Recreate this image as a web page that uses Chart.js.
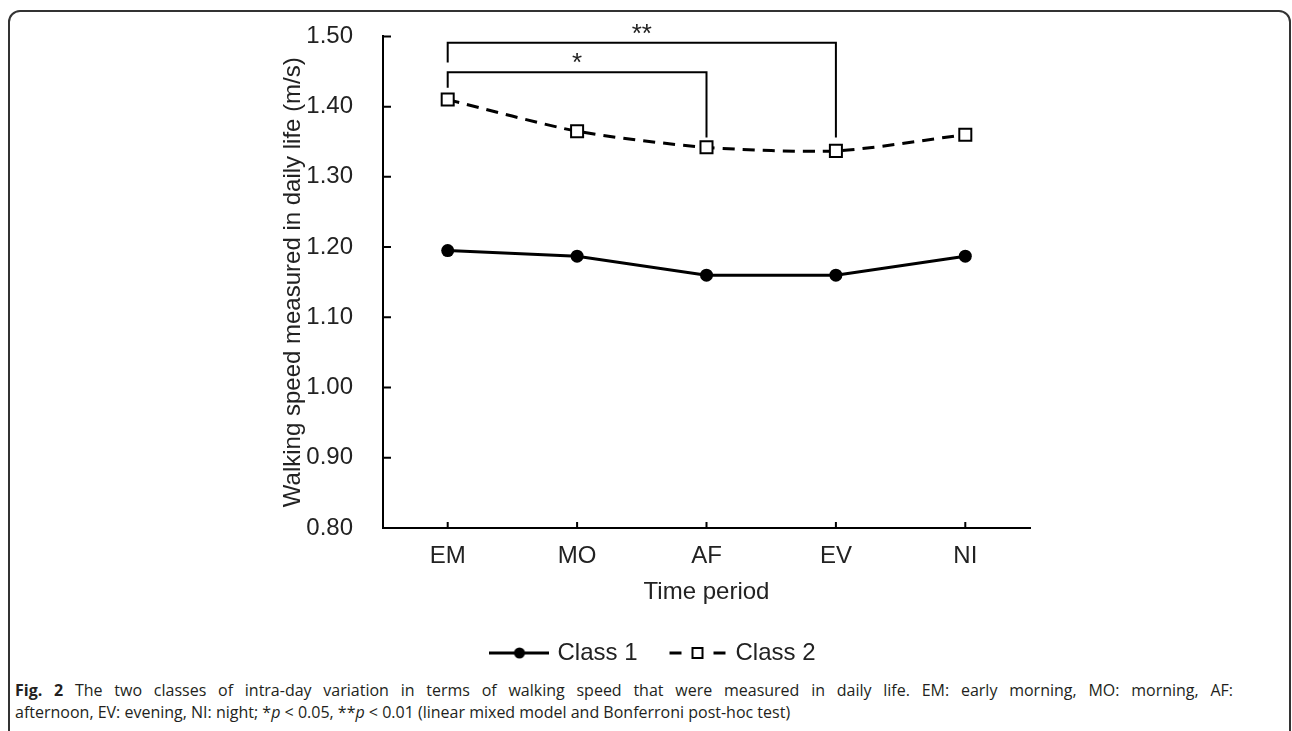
<!DOCTYPE html>
<html lang="en">
  <head>
    <meta charset="UTF-8" />
    <title>Walking speed by time period</title>
    <script src="https://cdn.jsdelivr.net/npm/chart.js@4.4.0/dist/chart.umd.min.js"></script>
    <style>
      html, body { margin: 0; padding: 0; background: #fff; overflow: hidden; }
      #frame {
        position: absolute; left: 8px; top: 10px; width: 1283px; height: 800px;
        box-sizing: border-box; border: 2px solid #333; border-radius: 12px;
      }
      #myChart { position: absolute; left: 0; top: 0; }
      #caption {
        position: absolute; left: 15px; top: 679px; width: 1218px;
        font-family: "Open Sans", "Noto Sans", sans-serif; font-size: 16px;
        line-height: 22px; color: #231f20;
      }
      #caption .l1 { text-align: justify; text-align-last: justify; white-space: nowrap; }
    </style>
  </head>
  <body>
    <div id="frame"></div>
    <canvas id="myChart" width="1292" height="675"></canvas>
    <div id="caption">
      <div class="l1"><b>Fig. 2</b> The two classes of intra-day variation in terms of walking speed that were measured in daily life. EM: early morning, MO: morning, AF:</div>
      <div>afternoon, EV: evening, NI: night; *<i>p</i> &lt; 0.05, **<i>p</i> &lt; 0.01 (linear mixed model and Bonferroni post-hoc test)</div>
    </div>

    <script>
// data
const periods = ['EM', 'MO', 'AF', 'EV', 'NI'];
const class1 = [1.195, 1.187, 1.160, 1.160, 1.187];
const class2 = [1.410, 1.365, 1.342, 1.337, 1.360];
const yTicks = [0.80, 0.90, 1.00, 1.10, 1.20, 1.30, 1.40, 1.50];

// significance brackets: from / to category index, bar level, leg ends (m/s)
const bracketFrom = [0, 0];
const bracketTo = [2, 3];
const bracketLevel = [1.449, 1.491];
const bracketLeftEnd = [1.427, 1.463];
const bracketRightEnd = [1.356, 1.356];
const bracketText = ['*', '**'];

const font = '"Liberation Sans", Arial, sans-serif';
const textColor = '#222';

// small legend pictures: line with marker
function legendIcon(dashed) {
  const c = document.createElement('canvas');
  c.width = 60; c.height = 16;
  const g = c.getContext('2d');
  g.strokeStyle = '#000';
  g.lineWidth = 3;
  if (dashed) {
    g.beginPath(); g.moveTo(2, 8); g.lineTo(14, 8); g.moveTo(46, 8); g.lineTo(58, 8); g.stroke();
    g.lineWidth = 2;
    g.fillStyle = '#fff';
    g.fillRect(25, 3, 10, 10);
    g.strokeRect(25, 3, 10, 10);
  } else {
    g.beginPath(); g.moveTo(0, 8); g.lineTo(60, 8); g.stroke();
    g.fillStyle = '#000';
    g.beginPath(); g.arc(30, 8, 5.5, 0, Math.PI * 2); g.fill();
  }
  return c;
}
const icons = [legendIcon(false), legendIcon(true)];

// inside tick marks and the significance brackets
const extras = {
  id: 'extras',
  afterDatasetsDraw(chart) {
    const ctx = chart.ctx;
    const x = chart.scales.x;
    const y = chart.scales.y;
    const area = chart.chartArea;
    ctx.save();
    ctx.strokeStyle = '#000';
    ctx.lineWidth = 2;
    ctx.beginPath();
    yTicks.forEach(v => {
      const py = y.getPixelForValue(v);
      ctx.moveTo(area.left, py); ctx.lineTo(area.left + 8, py);
    });
    periods.forEach((p, i) => {
      const px = x.getPixelForValue(i);
      ctx.moveTo(px, area.bottom); ctx.lineTo(px, area.bottom - 6);
    });
    ctx.stroke();

    ctx.fillStyle = textColor;
    ctx.font = '26px ' + font;
    ctx.textAlign = 'center';
    ctx.textBaseline = 'alphabetic';
    bracketText.forEach((t, i) => {
      const x1 = x.getPixelForValue(bracketFrom[i]);
      const x2 = x.getPixelForValue(bracketTo[i]);
      const yl = y.getPixelForValue(bracketLevel[i]);
      ctx.beginPath();
      ctx.moveTo(x1, y.getPixelForValue(bracketLeftEnd[i]));
      ctx.lineTo(x1, yl);
      ctx.lineTo(x2, yl);
      ctx.lineTo(x2, y.getPixelForValue(bracketRightEnd[i]));
      ctx.stroke();
      ctx.fillText(t, (x1 + x2) / 2, yl - 1);
    });
    ctx.restore();
  }
};

const ctx = document.getElementById('myChart').getContext('2d');
const myChart = new Chart(ctx, {
  type: 'line',
  data: {
    labels: periods,
    datasets: [{
      label: 'Class 1',
      data: class1,
      borderColor: '#000',
      backgroundColor: '#000',
      borderWidth: 3,
      pointStyle: 'circle',
      pointRadius: 6.5,
      pointBackgroundColor: '#000',
      pointBorderWidth: 0,
      tension: 0
    }, {
      label: 'Class 2',
      data: class2,
      borderColor: '#000',
      backgroundColor: '#fff',
      borderWidth: 3,
      borderDash: [12, 8],
      pointStyle: 'rect',
      pointRadius: 8.5,
      pointBackgroundColor: '#fff',
      pointBorderColor: '#000',
      pointBorderWidth: 2,
      tension: 0.25
    }]
  },
  options: {
    responsive: false,
    animation: false,
    layout: { padding: { left: 279, right: 262, top: 35, bottom: 0 } },
    plugins: {
      tooltip: { enabled: false },
      legend: {
        position: 'bottom',
        labels: {
          color: textColor,
          font: { family: font, size: 24 },
          usePointStyle: true,
          pointStyleWidth: 52,
          padding: 34,
          generateLabels(chart) {
            return chart.data.datasets.map((d, i) => ({
              text: d.label,
              pointStyle: icons[i],
              fillStyle: '#000',
              strokeStyle: '#000',
              lineWidth: 0,
              datasetIndex: i,
              fontColor: textColor
            }));
          }
        }
      }
    },
    scales: {
      x: {
        offset: true,
        grid: { display: false },
        border: { display: true, color: '#000', width: 2 },
        ticks: { color: textColor, font: { family: font, size: 24 }, padding: 6 },
        title: {
          display: true, text: 'Time period', color: textColor,
          font: { family: font, size: 24 }, padding: { top: 4, bottom: 0 }
        },
        afterFit(scale) { scale.height = 79; }
      },
      y: {
        min: 0.8,
        max: 1.5,
        grid: { display: false },
        border: { display: true, color: '#000', width: 2 },
        ticks: {
          stepSize: 0.1,
          color: textColor,
          font: { family: font, size: 24 },
          padding: 22,
          callback: v => Number(v).toFixed(2)
        },
        title: {
          display: true, text: 'Walking speed measured in daily life (m/s)', color: textColor,
          font: { family: font, size: 24 }, padding: 0
        },
        afterFit(scale) { scale.width = 104; }
      }
    }
  },
  plugins: [extras]
});
    </script>
  </body>
</html>
